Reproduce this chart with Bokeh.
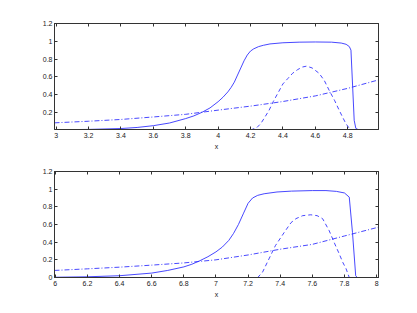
from bokeh.plotting import figure
from bokeh.layouts import column
from bokeh.models import LinearAxis, FixedTicker, CustomJSTickFormatter, Range1d
from bokeh.embed import file_html
from bokeh.resources import INLINE

# ---------------- data ----------------
top_xticks = [3.0, 3.2, 3.4, 3.6, 3.8, 4.0, 4.2, 4.4, 4.6, 4.8]
top_yticks = [0.2, 0.4, 0.6, 0.8, 1.0, 1.2]
bot_xticks = [6.0, 6.2, 6.4, 6.6, 6.8, 7.0, 7.2, 7.4, 7.6, 7.8, 8.0]
bot_yticks = [0.0, 0.2, 0.4, 0.6, 0.8, 1.0, 1.2]

top_solid_x = [2.99, 3.2, 3.4, 3.5, 3.6, 3.7, 3.8, 3.85, 3.9, 3.95, 4.0, 4.03, 4.06, 4.08, 4.1, 4.12,
               4.14, 4.16, 4.18, 4.2, 4.22, 4.25, 4.28, 4.32, 4.4, 4.5, 4.6, 4.7, 4.76, 4.79, 4.81,
               4.82, 4.84, 4.85, 4.87, 4.99]
top_solid_y = [0.004, 0.008, 0.018, 0.03, 0.05, 0.08, 0.13, 0.16, 0.2, 0.25, 0.32, 0.37, 0.43, 0.48, 0.54, 0.62,
               0.70, 0.78, 0.845, 0.89, 0.915, 0.94, 0.955, 0.97, 0.983, 0.99, 0.992, 0.99, 0.98, 0.966, 0.94,
               0.9, 0.11, 0.02, 0.0, 0.0]

top_dash_x = [2.99, 4.2, 4.24, 4.264, 4.29, 4.315, 4.34, 4.367, 4.4, 4.43, 4.46, 4.49, 4.52, 4.546,
              4.58, 4.623, 4.655, 4.685, 4.72, 4.747, 4.77, 4.788, 4.81, 4.82, 4.99]
top_dash_y = [0.0, 0.0, 0.03, 0.075, 0.15, 0.225, 0.32, 0.41, 0.52, 0.58, 0.64, 0.68, 0.71, 0.72,
              0.70, 0.64, 0.56, 0.45, 0.33, 0.225, 0.14, 0.075, 0.02, 0.0, 0.0]

top_dd_x = [2.99, 3.2, 3.4, 3.6, 3.8, 4.0, 4.2, 4.4, 4.6, 4.8, 4.99]
top_dd_y = [0.082, 0.10, 0.12, 0.148, 0.178, 0.225, 0.27, 0.322, 0.385, 0.47, 0.565]

bot_solid_x = [5.995, 6.2, 6.4, 6.6, 6.7, 6.8, 6.85, 6.9, 6.95, 7.0, 7.04, 7.08, 7.11, 7.14, 7.17, 7.2,
               7.228, 7.26, 7.3, 7.38, 7.47, 7.6, 7.685, 7.75, 7.8, 7.83, 7.85, 7.87, 7.88, 8.012]
bot_solid_y = [0.003, 0.008, 0.02, 0.05, 0.08, 0.12, 0.15, 0.19, 0.235, 0.29, 0.345, 0.42, 0.5, 0.6, 0.72, 0.84,
               0.9, 0.93, 0.948, 0.968, 0.978, 0.984, 0.984, 0.975, 0.957, 0.91, 0.51, 0.02, 0.0, 0.0]

bot_dash_x = [5.995, 7.26, 7.29, 7.33, 7.37, 7.425, 7.467, 7.498, 7.54, 7.59, 7.63, 7.664, 7.705,
              7.74, 7.767, 7.79, 7.81, 7.83, 8.012]
bot_dash_y = [0.0, 0.0, 0.06, 0.21, 0.36, 0.51, 0.62, 0.666, 0.70, 0.71, 0.70, 0.666, 0.53,
              0.38, 0.27, 0.17, 0.1, 0.0, 0.0]

bot_dd_x = [5.995, 6.2, 6.4, 6.6, 6.8, 7.0, 7.2, 7.4, 7.6, 7.8, 8.012]
bot_dd_y = [0.08, 0.098, 0.117, 0.14, 0.165, 0.2, 0.255, 0.32, 0.375, 0.47, 0.57]

FONT = "Liberation Sans"
FS = "7px"
AX_COLOR = "#333333"
LINE_COLOR = "#3333ff"


def style_axis(ax, ticks, show_labels=True):
    ax.ticker = FixedTicker(ticks=ticks)
    ax.major_tick_in = 3
    ax.major_tick_out = 0
    ax.minor_tick_line_color = None
    ax.axis_line_color = AX_COLOR
    ax.major_tick_line_color = AX_COLOR
    ax.major_label_text_font = FONT
    ax.major_label_text_font_size = FS
    ax.major_label_text_color = "#222222"
    ax.major_label_standoff = 3
    if show_labels:
        ax.formatter = CustomJSTickFormatter(code="return String(Math.round(tick*10)/10);")
    else:
        ax.formatter = CustomJSTickFormatter(code="return '';")


def make_fig(xr, yr, xticks, yticks, sx, sy, dx, dy, ddx, ddy, height, top_b, bot_b):
    p = figure(width=409, height=height, output_backend="svg", toolbar_location=None,
               x_range=Range1d(*xr), y_range=Range1d(*yr),
               min_border_left=54, min_border_right=31, min_border_top=top_b, min_border_bottom=bot_b,
               x_axis_location=None, y_axis_location=None)
    p.xgrid.visible = False
    p.ygrid.visible = False
    p.outline_line_color = AX_COLOR
    p.outline_line_width = 1
    p.background_fill_color = "white"
    p.border_fill_color = "white"

    xb = LinearAxis(axis_label="x")
    style_axis(xb, xticks)
    xb.axis_label_text_font = FONT
    xb.axis_label_text_font_size = FS
    xb.axis_label_text_font_style = "normal"
    xb.axis_label_text_color = "#222222"
    xb.axis_label_standoff = 2
    p.add_layout(xb, "below")

    yl = LinearAxis()
    style_axis(yl, yticks)
    yl.major_label_standoff = 2
    p.add_layout(yl, "left")

    xa = LinearAxis()
    style_axis(xa, xticks, show_labels=False)
    xa.major_label_text_font_size = "0px"
    xa.major_label_standoff = 0
    p.add_layout(xa, "above")

    yr_ax = LinearAxis()
    style_axis(yr_ax, yticks, show_labels=False)
    yr_ax.major_label_text_font_size = "0px"
    yr_ax.major_label_standoff = 0
    p.add_layout(yr_ax, "right")

    p.line(dx, dy, line_color=LINE_COLOR, line_width=0.9, line_dash="4 3")
    p.line(ddx, ddy, line_color=LINE_COLOR, line_width=0.9, line_dash="5 2 1 2")
    p.line(sx, sy, line_color=LINE_COLOR, line_width=0.9)
    return p


p1 = make_fig((2.99, 4.99), (0.007, 1.2), top_xticks, top_yticks,
              top_solid_x, top_solid_y, top_dash_x, top_dash_y, top_dd_x, top_dd_y,
              height=155, top_b=23, bot_b=26)
p2 = make_fig((5.995, 8.012), (0.0, 1.2), bot_xticks, bot_yticks,
              bot_solid_x, bot_solid_y, bot_dash_x, bot_dash_y, bot_dd_x, bot_dd_y,
              height=150, top_b=16, bot_b=28)

layout = column(p1, p2, spacing=0)
open("out.html", "w").write(file_html(layout, INLINE))
